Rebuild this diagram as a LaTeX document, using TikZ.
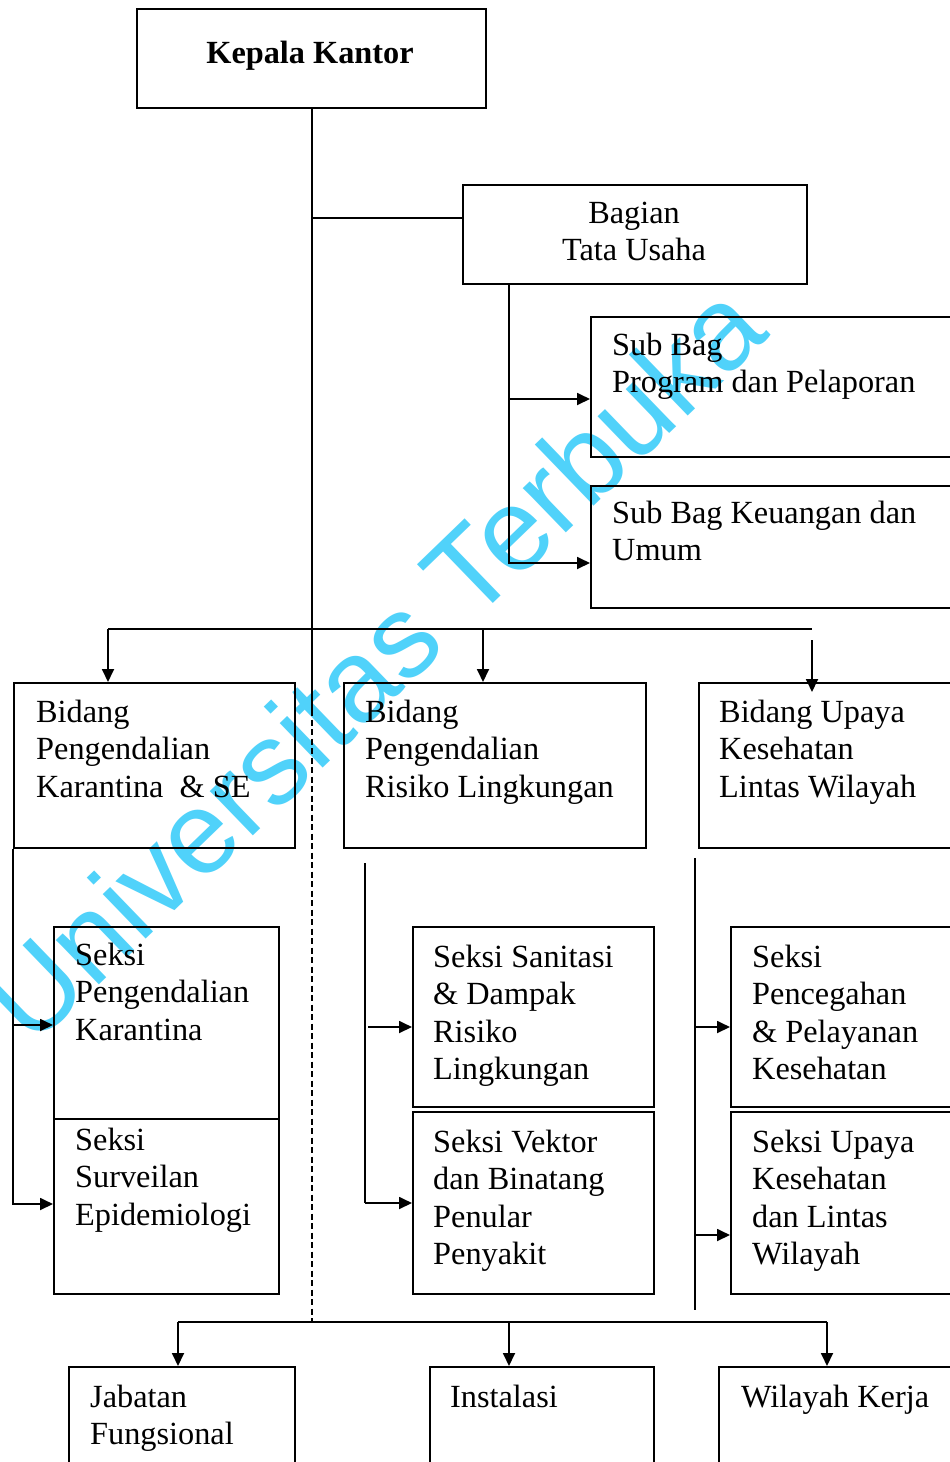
\documentclass[tikz,border=0pt]{standalone}
\usepackage{fontspec}
\setmainfont{Liberation Serif}
\newfontfamily\wmfont{Liberation Sans}
\usetikzlibrary{arrows.meta}
\definecolor{wmcyan}{RGB}{80,210,250}
\tikzset{
  ln/.style={line width=1.8pt, black},
  arr/.style={ln, -{Triangle[length=13pt,width=12pt]}},
  dashln/.style={line width=2.4pt, dash pattern=on 6pt off 3.5pt},
  box/.style={draw, line width=1.8pt, inner sep=0pt, anchor=north west},
  txt/.style={font=\fontsize{32.3}{37.5}\selectfont, inner sep=0pt, align=left, anchor=base west},
  ctxt/.style={txt, align=center, anchor=base}
}
\begin{document}
\begin{tikzpicture}[x=1pt, y=-1pt]
\clip (0,0) rectangle (950,1462);
\fill[white] (0,0) rectangle (950,1462);
% watermark
\node[text=wmcyan, font=\wmfont\fontsize{117}{117}\selectfont, rotate=44, anchor=base, inner sep=0pt] (wm) at (402,692) {Universitas Terbuka};
% boxes
\node[box, minimum width=349pt, minimum height=99pt] (kk) at (136,8) {};
\node[box, minimum width=344pt, minimum height=99pt] (bag) at (462,184) {};
\node[box, minimum width=370pt, minimum height=140pt] (sb1) at (590,316) {};
\node[box, minimum width=370pt, minimum height=122pt] (sb2) at (590,485) {};
\node[box, minimum width=281pt, minimum height=165pt] (bid1) at (13,682) {};
\node[box, minimum width=302pt, minimum height=165pt] (bid2) at (343,682) {};
\node[box, minimum width=262pt, minimum height=165pt] (bid3) at (698,682) {};
\node[box, minimum width=225pt, minimum height=192pt] (s11) at (53,926) {};
\node[box, minimum width=225pt, minimum height=175pt] (s12) at (53,1118) {};
\node[box, minimum width=241pt, minimum height=180pt] (s21) at (412,926) {};
\node[box, minimum width=241pt, minimum height=182pt] (s22) at (412,1111) {};
\node[box, minimum width=230pt, minimum height=180pt] (s31) at (730,926) {};
\node[box, minimum width=230pt, minimum height=182pt] (s32) at (730,1111) {};
\node[box, minimum width=226pt, minimum height=110pt] (jf) at (68,1366) {};
\node[box, minimum width=224pt, minimum height=110pt] (ins) at (429,1366) {};
\node[box, minimum width=242pt, minimum height=110pt] (wk) at (718,1366) {};
% texts (anchored at the baseline of their last line)
\node[ctxt, font=\fontsize{32.3}{37.5}\selectfont\bfseries] (kkt) at (310,63) {Kepala Kantor};
\node[ctxt] (bagt) at (634,260.5) {Bagian\\Tata Usaha};
\node[txt] (sb1t) at (612,392.5) {Sub Bag\\Program dan Pelaporan};
\node[txt] (sb2t) at (612,560.5) {Sub Bag Keuangan dan\\Umum};
\node[txt] (bid1t) at (36,797) {Bidang\\Pengendalian\\Karantina \ \& SE};
\node[txt] (bid2t) at (365,797) {Bidang\\Pengendalian\\Risiko Lingkungan};
\node[txt] (bid3t) at (719,797) {Bidang Upaya\\Kesehatan\\Lintas Wilayah};
\node[txt] (s11t) at (75,1040) {Seksi\\Pengendalian\\Karantina};
\node[txt] (s12t) at (75,1225) {Seksi\\Surveilan\\Epidemiologi};
\node[txt] (s21t) at (433,1079.5) {Seksi Sanitasi\\\& Dampak\\Risiko\\Lingkungan};
\node[txt] (s22t) at (433,1264.5) {Seksi Vektor\\dan Binatang\\Penular\\Penyakit};
\node[txt] (s31t) at (752,1079.5) {Seksi\\Pencegahan\\\& Pelayanan\\Kesehatan};
\node[txt] (s32t) at (752,1264.5) {Seksi Upaya\\Kesehatan\\dan Lintas\\Wilayah};
\node[txt] (jft) at (90,1444.5) {Jabatan\\Fungsional};
\node[txt] (inst) at (450,1407) {Instalasi};
\node[txt] (wkt) at (741,1407) {Wilayah Kerja};
% coordinates
\coordinate (mainT) at (312,107);
\coordinate (dstart) at (312,710);
\coordinate (jbus) at (312,1322);
\coordinate (bagin) at (462,218);
\coordinate (bagout) at (509,283);
\coordinate (sb1in) at (590,399);
\coordinate (sb2in) at (590,563);
\coordinate (busL) at (108,629);
\coordinate (busR) at (812,629);
\coordinate (b1in) at (108,682);
\coordinate (b2in) at (483,682);
\coordinate (b3s) at (812,640);
\coordinate (b3in) at (812,692);
\coordinate (s11in) at (53,1025);
\coordinate (s12in) at (53,1204);
\coordinate (mlTop) at (365,863);
\coordinate (s21s) at (368,1027);
\coordinate (s21in) at (412,1027);
\coordinate (s22in) at (412,1203);
\coordinate (rlTop) at (695,858);
\coordinate (rlBot) at (695,1310);
\coordinate (s31in) at (730,1027);
\coordinate (s32in) at (730,1235);
\coordinate (jbL) at (178,1322);
\coordinate (jbM) at (509,1322);
\coordinate (jbR) at (827,1322);
% connectors
\draw[ln] (mainT) -- (dstart);
\draw[dashln] (dstart) -- (jbus);
\draw[ln] (bagin -| mainT) -- (bagin);
\draw[arr] (bagout) |- (sb2in);
\draw[arr] (bagout |- sb1in) -- (sb1in);
\draw[ln] (busL) -- (busR);
\draw[arr] (busL) -- (b1in);
\draw[arr] (b2in |- busL) -- (b2in);
\draw[arr] (b3s) -- (b3in);
\draw[arr] (bid1.south west) |- (s12in);
\draw[arr] (s11in -| bid1.south west) -- (s11in);
\draw[ln] (mlTop) -- (mlTop |- s22in);
\draw[arr] (mlTop |- s22in) -- (s22in);
\draw[arr] (s21s) -- (s21in);
\draw[ln] (rlTop) -- (rlBot);
\draw[arr] (rlTop |- s31in) -- (s31in);
\draw[arr] (rlTop |- s32in) -- (s32in);
\draw[ln] (jbL) -- (jbR);
\draw[arr] (jbL) -- (jbL |- jf.north);
\draw[arr] (jbM) -- (jbM |- ins.north);
\draw[arr] (jbR) -- (jbR |- wk.north);
\end{tikzpicture}
\end{document}
